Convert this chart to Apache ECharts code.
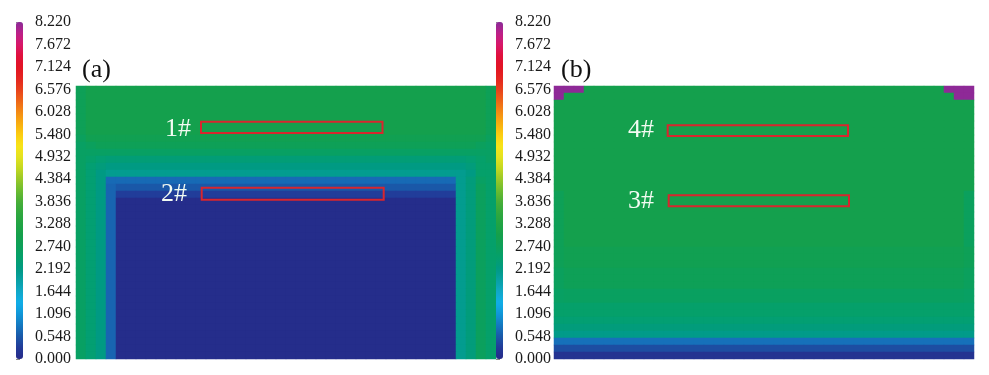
<!DOCTYPE html>
<html><head><meta charset="utf-8">
<script src="https://cdn.jsdelivr.net/npm/echarts@6/dist/echarts.min.js"></script>
<style>html,body{margin:0;padding:0;background:#fff}#c{width:989px;height:375px}</style>
</head><body><div id="c"></div>
<script>
// ---------- colour bar ----------
const cbTicks = ['0.000','0.548','1.096','1.644','2.192','2.740','3.288','3.836','4.384','4.932','5.480','6.028','6.576','7.124','7.672','8.220'];
const cbMin = 0;
const cbMax = 8.22;
const cbColors = ['#262a88','#223a98','#1a58a8','#1478c0','#1096d8','#10aee8','#10a8c8','#08a0a4','#009a84','#04a06c','#0ca05a','#14a04c','#20a444','#30a83e','#48ae38','#6cbc30','#98c828','#c4d820','#e4e220','#f8e418','#fccc10','#f8ac10','#f48a14','#ee6418','#e8401c','#e42420','#e21424','#e0103c','#d8186a','#bc2088','#8a2a98'];

// ---------- panel (a) field, rows top -> bottom (39 rows), 42 columns ----------
const a_r00 = [2.8, 3,3,3,3,3,3,3,3,3,3, 3,3,3,3,3,3,3,3,3,3, 3,3,3,3,3,3,3,3,3,3, 3,3,3,3,3,3,3,3,3,3, 2.8];
const a_r07 = [2.7, 2.9,2.9,2.9,2.9,2.9,2.9,2.9,2.9,2.9,2.9, 2.9,2.9,2.9,2.9,2.9,2.9,2.9,2.9,2.9,2.9, 2.9,2.9,2.9,2.9,2.9,2.9,2.9,2.9,2.9,2.9, 2.9,2.9,2.9,2.9,2.9,2.9,2.9,2.9,2.9,2.9, 2.7];
const a_r08 = [2.6,2.7, 2.8,2.8,2.8,2.8,2.8,2.8,2.8,2.8,2.8,2.8, 2.8,2.8,2.8,2.8,2.8,2.8,2.8,2.8,2.8,2.8, 2.8,2.8,2.8,2.8,2.8,2.8,2.8,2.8,2.8,2.8, 2.8,2.8,2.8,2.8,2.8,2.8,2.8,2.8, 2.7,2.6];
const a_r09 = [2.6,2.6,2.6,2.6,2.6,2.6,2.6,2.6,2.6,2.6, 2.6,2.6,2.6,2.6,2.6,2.6,2.6,2.6,2.6,2.6, 2.6,2.6,2.6,2.6,2.6,2.6,2.6,2.6,2.6,2.6, 2.6,2.6,2.6,2.6,2.6,2.6,2.6,2.6,2.6,2.6, 2.6,2.6];
const a_r10 = [2.6,2.5,2.4, 2.35,2.35,2.35,2.35,2.35,2.35,2.35,2.35,2.35,2.35, 2.35,2.35,2.35,2.35,2.35,2.35,2.35,2.35,2.35,2.35, 2.35,2.35,2.35,2.35,2.35,2.35,2.35,2.35,2.35,2.35, 2.35,2.35,2.35,2.35,2.35,2.35, 2.4,2.5,2.6];
const a_r11 = [2.6,2.4,2.3, 2.2,2.2,2.2,2.2,2.2,2.2,2.2,2.2,2.2,2.2, 2.2,2.2,2.2,2.2,2.2,2.2,2.2,2.2,2.2,2.2, 2.2,2.2,2.2,2.2,2.2,2.2,2.2,2.2,2.2,2.2, 2.2,2.2,2.2,2.2,2.2,2.2, 2.3,2.5,2.5];
const a_r12 = [2.6,2.4,2.2, 2.1,2.1,2.1,2.1,2.1,2.1,2.1,2.1,2.1,2.1, 2.1,2.1,2.1,2.1,2.1,2.1,2.1,2.1,2.1,2.1, 2.1,2.1,2.1,2.1,2.1,2.1,2.1,2.1,2.1,2.1, 2.1,2.1,2.1,2.1,2.1,2.1, 2.2,2.5,2.5];
const a_r13 = [2.6,2.4,2.2,0.7, 0.7,0.7,0.7,0.7,0.7,0.7,0.7,0.7,0.7,0.7, 0.7,0.7,0.7,0.7,0.7,0.7,0.7,0.7,0.7,0.7, 0.7,0.7,0.7,0.7,0.7,0.7,0.7,0.7,0.7,0.7, 0.7,0.7,0.7,0.7, 2.1,2.3,2.6,2.5];
const a_r14 = [2.6,2.4,2.2,0.65, 0.55,0.55,0.55,0.55,0.55,0.55,0.55,0.55,0.55,0.55, 0.55,0.55,0.55,0.55,0.55,0.55,0.55,0.55,0.55,0.55, 0.55,0.55,0.55,0.55,0.55,0.55,0.55,0.55,0.55,0.55, 0.55,0.55,0.55,0.55, 2.1,2.3,2.7,2.5];
const a_r15 = [2.6,2.4,2.2,0.65, 0.3,0.3,0.3,0.3,0.3,0.3,0.3,0.3,0.3,0.3, 0.3,0.3,0.3,0.3,0.3,0.3,0.3,0.3,0.3,0.3, 0.3,0.3,0.3,0.3,0.3,0.3,0.3,0.3,0.3,0.3, 0.3,0.3,0.3,0.3, 2.1,2.3,2.7,2.5];
const a_core = [2.6,2.4,2.2,0.65, 0.05,0.05,0.05,0.05,0.05,0.05,0.05,0.05,0.05,0.05, 0.05,0.05,0.05,0.05,0.05,0.05,0.05,0.05,0.05,0.05, 0.05,0.05,0.05,0.05,0.05,0.05,0.05,0.05,0.05,0.05, 0.05,0.05,0.05,0.05, 2.1,2.3,2.7,2.5];
const fieldA = [a_r00,a_r00,a_r00,a_r00,a_r00,a_r00,a_r00, a_r07,a_r08,a_r09,a_r10,a_r11,a_r12,a_r13,a_r14,a_r15,
  a_core,a_core,a_core,a_core,a_core,a_core,a_core,a_core,a_core,a_core,a_core,a_core,
  a_core,a_core,a_core,a_core,a_core,a_core,a_core,a_core,a_core,a_core,a_core];

// ---------- panel (b) field (39 rows) ----------
const b_r00 = [8.2,8.2,8.2, 3,3,3,3,3,3,3,3,3,3, 3,3,3,3,3,3,3,3,3,3, 3,3,3,3,3,3,3,3,3,3, 3,3,3,3,3,3, 8.2,8.2,8.2];
const b_r01 = [8.2, 3,3,3,3,3,3,3,3,3,3, 3,3,3,3,3,3,3,3,3,3, 3,3,3,3,3,3,3,3,3,3, 3,3,3,3,3,3,3,3,3, 8.2,8.2];
const b_g = [3,3,3,3,3,3,3,3,3,3, 3,3,3,3,3,3,3,3,3,3, 3,3,3,3,3,3,3,3,3,3, 3,3,3,3,3,3,3,3,3,3, 3,3];
const b_g2 = [2.8, 3,3,3,3,3,3,3,3,3,3, 3,3,3,3,3,3,3,3,3,3, 3,3,3,3,3,3,3,3,3,3, 3,3,3,3,3,3,3,3,3,3, 2.7];
const b_r23 = [2.8, 2.9,2.9,2.9,2.9,2.9,2.9,2.9,2.9,2.9,2.9, 2.9,2.9,2.9,2.9,2.9,2.9,2.9,2.9,2.9,2.9, 2.9,2.9,2.9,2.9,2.9,2.9,2.9,2.9,2.9,2.9, 2.9,2.9,2.9,2.9,2.9,2.9,2.9,2.9,2.9,2.9, 2.8];
const b_r26 = [2.7, 2.8,2.8,2.8,2.8,2.8,2.8,2.8,2.8,2.8,2.8, 2.8,2.8,2.8,2.8,2.8,2.8,2.8,2.8,2.8,2.8, 2.8,2.8,2.8,2.8,2.8,2.8,2.8,2.8,2.8,2.8, 2.8,2.8,2.8,2.8,2.8,2.8,2.8,2.8,2.8,2.8, 2.7];
const b_r29 = [2.6, 2.65,2.65,2.65,2.65,2.65,2.65,2.65,2.65,2.65,2.65, 2.65,2.65,2.65,2.65,2.65,2.65,2.65,2.65,2.65,2.65, 2.65,2.65,2.65,2.65,2.65,2.65,2.65,2.65,2.65,2.65, 2.65,2.65,2.65,2.65,2.65,2.65,2.65,2.65,2.65,2.65, 2.6];
const b_r31 = [2.5,2.5,2.5,2.5,2.5,2.5,2.5,2.5,2.5,2.5, 2.5,2.5,2.5,2.5,2.5,2.5,2.5,2.5,2.5,2.5, 2.5,2.5,2.5,2.5,2.5,2.5,2.5,2.5,2.5,2.5, 2.5,2.5,2.5,2.5,2.5,2.5,2.5,2.5,2.5,2.5, 2.5,2.5];
const b_r33 = [2.4,2.4,2.4,2.4,2.4,2.4,2.4,2.4,2.4,2.4, 2.4,2.4,2.4,2.4,2.4,2.4,2.4,2.4,2.4,2.4, 2.4,2.4,2.4,2.4,2.4,2.4,2.4,2.4,2.4,2.4, 2.4,2.4,2.4,2.4,2.4,2.4,2.4,2.4,2.4,2.4, 2.4,2.4];
const b_r34 = [2.3,2.3,2.3,2.3,2.3,2.3,2.3,2.3,2.3,2.3, 2.3,2.3,2.3,2.3,2.3,2.3,2.3,2.3,2.3,2.3, 2.3,2.3,2.3,2.3,2.3,2.3,2.3,2.3,2.3,2.3, 2.3,2.3,2.3,2.3,2.3,2.3,2.3,2.3,2.3,2.3, 2.3,2.3];
const b_r35 = [2.15,2.15,2.15,2.15,2.15,2.15,2.15,2.15,2.15,2.15, 2.15,2.15,2.15,2.15,2.15,2.15,2.15,2.15,2.15,2.15, 2.15,2.15,2.15,2.15,2.15,2.15,2.15,2.15,2.15,2.15, 2.15,2.15,2.15,2.15,2.15,2.15,2.15,2.15,2.15,2.15, 2.15,2.15];
const b_r36 = [0.75,0.75,0.75,0.75,0.75,0.75,0.75,0.75,0.75,0.75, 0.75,0.75,0.75,0.75,0.75,0.75,0.75,0.75,0.75,0.75, 0.75,0.75,0.75,0.75,0.75,0.75,0.75,0.75,0.75,0.75, 0.75,0.75,0.75,0.75,0.75,0.75,0.75,0.75,0.75,0.75, 0.75,0.75];
const b_r37 = [0.45,0.45,0.45,0.45,0.45,0.45,0.45,0.45,0.45,0.45, 0.45,0.45,0.45,0.45,0.45,0.45,0.45,0.45,0.45,0.45, 0.45,0.45,0.45,0.45,0.45,0.45,0.45,0.45,0.45,0.45, 0.45,0.45,0.45,0.45,0.45,0.45,0.45,0.45,0.45,0.45, 0.45,0.45];
const b_r38 = [0.15,0.15,0.15,0.15,0.15,0.15,0.15,0.15,0.15,0.15, 0.15,0.15,0.15,0.15,0.15,0.15,0.15,0.15,0.15,0.15, 0.15,0.15,0.15,0.15,0.15,0.15,0.15,0.15,0.15,0.15, 0.15,0.15,0.15,0.15,0.15,0.15,0.15,0.15,0.15,0.15, 0.15,0.15];
const fieldB = [b_r00,b_r01, b_g,b_g,b_g,b_g,b_g,b_g,b_g,b_g,b_g,b_g,b_g,b_g,b_g,
  b_g2,b_g2,b_g2,b_g2,b_g2,b_g2,b_g2,b_g2,
  b_r23,b_r23,b_r23, b_r26,b_r26,b_r26, b_r29,b_r29, b_r31,b_r31,
  b_r33,b_r34,b_r35,b_r36,b_r37,b_r38];

// ---------- measuring zones (cell units: 10 px columns, 7 px rows) ----------
const zoneNamesA = ['1#', '2#'];
const zoneBoxesA = [[12.5, 5.1, 30.65, 6.71], [12.57, 14.53, 30.77, 16.24]];
const zoneLabelA = [[10.2, 6.14], [9.8, 15.43]];
const zoneNamesB = ['4#', '3#'];
const zoneBoxesB = [[11.37, 5.61, 29.4, 7.14], [11.47, 15.61, 29.5, 17.19]];
const zoneLabelB = [[8.7, 6.29], [8.7, 16.43]];
const panelNames = ['(a)', '(b)'];

// ---------- build ----------
const nCols = 42, nRows = 39;
const colCats = Array.from({length: nCols}, (_, i) => i);
const rowCats = Array.from({length: nRows}, (_, i) => i);
function toCells(field) {
  const out = [];
  field.forEach((row, r) => row.forEach((v, c) => out.push([c, r, v])));
  return out;
}
function zoneData(boxes, labels) {
  return boxes.map((b, i) => [b[0], b[1], b[2], b[3], labels[i][0], labels[i][1]]);
}
function zoneRenderer(names) {
  return function (params, api) {
    const p0 = api.coord([api.value(0), api.value(1)]);
    const p1 = api.coord([api.value(2), api.value(3)]);
    const pl = api.coord([api.value(4), api.value(5)]);
    return {type: 'group', children: [
      {type: 'rect', shape: {x: Math.min(p0[0], p1[0]), y: Math.min(p0[1], p1[1]), width: Math.abs(p1[0] - p0[0]), height: Math.abs(p1[1] - p0[1])},
       style: {fill: 'none', stroke: '#d8262e', lineWidth: 2}},
      {type: 'text', style: {text: names[params.dataIndex], x: pl[0], y: pl[1], fill: '#f2fbf2', fontSize: 26, fontFamily: 'Liberation Serif', align: 'center', verticalAlign: 'middle'}}
    ]};
  };
}
const serif = 'Liberation Serif';
const cbAxis = (gi) => ({gridIndex: gi, type: 'category', data: cbTicks, boundaryGap: false, position: 'right',
  axisLine: {show: false}, axisTick: {show: true, length: 4, lineStyle: {color: '#888', width: 1}},
  axisLabel: {interval: 0, margin: 12, fontFamily: serif, fontSize: 16, color: '#1a1a1a', padding: [0, 0, 7, 0]},
  splitLine: {show: false}});
const hid = (gi, extra) => Object.assign({gridIndex: gi, show: false, splitLine: {show: false}}, extra);

const chart = echarts.init(document.getElementById('c'), null, {renderer: 'canvas'});
chart.setOption({
  animation: false,
  backgroundColor: '#ffffff',
  title: [
    {text: panelNames[0], left: 82, top: 57, padding: 0, textStyle: {fontFamily: serif, fontSize: 26, fontWeight: 'normal', color: '#111'}},
    {text: panelNames[1], left: 561, top: 57, padding: 0, textStyle: {fontFamily: serif, fontSize: 26, fontWeight: 'normal', color: '#111'}}
  ],
  grid: [
    {left: 16, top: 22, width: 7, height: 337},
    {left: 496, top: 22, width: 7, height: 337},
    {left: 76, top: 86, width: 420, height: 273},
    {left: 554, top: 86, width: 420, height: 273}
  ],
  xAxis: [
    hid(0, {type: 'value'}),
    hid(1, {type: 'value'}),
    hid(2, {type: 'category', data: colCats}),
    hid(3, {type: 'category', data: colCats}),
    hid(2, {type: 'value', min: 0, max: nCols}),
    hid(3, {type: 'value', min: 0, max: nCols})
  ],
  yAxis: [
    cbAxis(0),
    cbAxis(1),
    hid(2, {type: 'category', data: rowCats, inverse: true}),
    hid(3, {type: 'category', data: rowCats, inverse: true}),
    hid(2, {type: 'value', min: 0, max: nRows, inverse: true}),
    hid(3, {type: 'value', min: 0, max: nRows, inverse: true})
  ],
  visualMap: [
    {type: 'continuous', seriesIndex: 0, min: cbMin, max: cbMax, inRange: {color: cbColors}, left: 16, top: 22,
     itemWidth: 7, itemHeight: 337, padding: 0, calculable: false, hoverLink: false, text: null},
    {type: 'continuous', seriesIndex: 1, min: cbMin, max: cbMax, inRange: {color: cbColors}, left: 496, top: 22,
     itemWidth: 7, itemHeight: 337, padding: 0, calculable: false, hoverLink: false, text: null}
  ],
  series: [
    {type: 'heatmap', xAxisIndex: 2, yAxisIndex: 2, data: toCells(fieldA), silent: true, emphasis: {disabled: true}, itemStyle: {borderWidth: 0}},
    {type: 'heatmap', xAxisIndex: 3, yAxisIndex: 3, data: toCells(fieldB), silent: true, emphasis: {disabled: true}, itemStyle: {borderWidth: 0}},
    {type: 'custom', xAxisIndex: 4, yAxisIndex: 4, data: zoneData(zoneBoxesA, zoneLabelA), renderItem: zoneRenderer(zoneNamesA), silent: true, z: 5},
    {type: 'custom', xAxisIndex: 5, yAxisIndex: 5, data: zoneData(zoneBoxesB, zoneLabelB), renderItem: zoneRenderer(zoneNamesB), silent: true, z: 5}
  ]
});
</script></body></html>
